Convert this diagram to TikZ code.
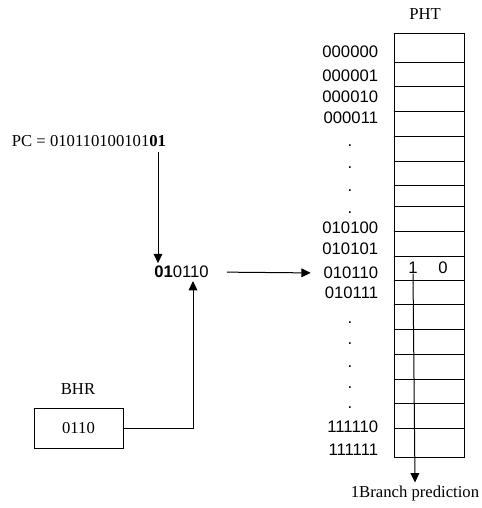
\documentclass[tikz,border=0pt]{standalone}
\usepackage{fontspec}
\setmainfont{Liberation Serif}
\newfontfamily\arialfont{Liberation Sans}
\usetikzlibrary{arrows.meta, calc}

\begin{document}
\begin{tikzpicture}[
    x=0.75pt, y=-0.75pt,
    serif/.style={font=\fontsize{12.5}{15}\selectfont, inner sep=2pt},
    sans/.style={font=\arialfont\fontsize{12.5}{15}\selectfont, inner sep=2pt},
    rowlbl/.style={sans, anchor=east},
    dotlbl/.style={sans, anchor=base},
    regbox/.style={rectangle, draw=black, line width=0.75pt, minimum width=66.75pt, minimum height=30pt, serif},
    arrow/.style={-{Triangle[length=7pt, width=6.5pt]}, line width=0.75pt}
]
\useasboundingbox (0,0) rectangle (482,508);

% PHT table
\node[serif] (pht) at (425,14) {PHT};
\draw[line width=0.75pt] (394,33) rectangle (464,457);
\foreach \y in {62,86,111,136,161,185,206,231,256,280,304,329,354,379,403,428}
    \draw[line width=0.75pt] (394,\y) -- (464,\y);

% row indices
\foreach \n/\lbl/\y in {r0/000000/52, r1/000001/76, r2/000010/97, r3/000011/118,
    r20/010100/228, r21/010101/249, r22/010110/273, r23/010111/293,
    r62/111110/427, r63/111111/450}
    \node[rowlbl] (\n) at (381,\y) {\lbl};
\foreach \n/\y in {d0/146, d1/168, d2/191, d3/213, d4/323, d5/344, d6/367, d7/388, d8/408}
    \node[dotlbl] (\n) at (350,\y) {.};

\node[sans] (one) at (413,268) {1};
\node[sans] (zero) at (443,268) {0};
\node[serif] (pred) at (415,493) {1Branch prediction};

% index formation
\node[serif] (pc) at (89,141) {PC = 010110100101\textbf{01}};
\node[sans] (idx) at (181.5,272) {\textbf{01}0110};
\node[serif] (bhrlbl) at (78,389) {BHR};
\node[regbox] (bhr) at (78.5,428) {0110};

\coordinate (pcbit) at (158,152);
\coordinate (bhrin) at (193,281);

\draw[arrow] (pcbit) -- (pcbit |- idx.north);
\draw[arrow] (bhr.east) -| (bhrin);
\draw[arrow, shorten <=11.5pt, shorten >=7.5pt] (idx.east) -- (r22.west);
\draw[arrow] (one.base) -- (pred.north);

\end{tikzpicture}
\end{document}
